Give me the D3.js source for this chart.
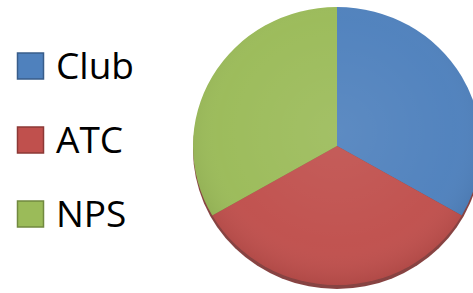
<!DOCTYPE html>
<html>
<head>
<meta charset="UTF-8">
<title>Pie</title>
<script src="https://d3js.org/d3.v7.min.js"></script>
<style>
  body { margin: 0; background: #fff; }
  svg { display: block; }
</style>
</head>
<body>
<div id="chart"></div>
<script>
const categories = ["Club", "ATC", "NPS"];
const values = [1, 1, 1];
const colors = ["#4f81bd", "#c0504d", "#9bbb59"];
const borders = ["#385d8a", "#8c3836", "#71893f"];

const width = 473, height = 293;
const cx = 337, cy = 146, rx = 144, ry = 139;

const svg = d3.select("#chart").append("svg")
  .attr("width", width)
  .attr("height", height);

const defs = svg.append("defs");
const grad = defs.append("radialGradient")
  .attr("id", "shade")
  .attr("cx", "50%").attr("cy", "45%").attr("r", "55%");
grad.append("stop").attr("offset", "0%").attr("stop-color", "#fff").attr("stop-opacity", 0.08);
grad.append("stop").attr("offset", "75%").attr("stop-color", "#fff").attr("stop-opacity", 0.02);
grad.append("stop").attr("offset", "100%").attr("stop-color", "#000").attr("stop-opacity", 0.08);

const data = categories.map((c, i) => ({ name: c, value: values[i], color: colors[i] }));

const pie = d3.pie().sort(null).value(d => d.value);
const arc = d3.arc().innerRadius(0).outerRadius(ry);

const g = svg.append("g")
  .attr("transform", `translate(${cx},${cy}) scale(${rx / ry},1)`);

// depth under the pie
g.append("ellipse")
  .attr("cx", 0).attr("cy", 4)
  .attr("rx", ry).attr("ry", ry)
  .attr("fill", "#7a2f2d")
  .attr("opacity", 0.9);

g.selectAll("path.slice")
  .data(pie(data))
  .join("path")
  .attr("class", "slice")
  .attr("d", arc)
  .attr("fill", d => d.data.color);

g.append("circle")
  .attr("r", ry)
  .attr("fill", "url(#shade)");

// legend
const legend = svg.append("g");
const y = d3.scalePoint().domain(categories).range([66, 214]);

legend.selectAll("rect")
  .data(data)
  .join("rect")
  .attr("x", 17.5)
  .attr("y", d => y(d.name) - 13)
  .attr("width", 26)
  .attr("height", 26)
  .attr("fill", d => d.color)
  .attr("stroke", (d, i) => borders[i])
  .attr("stroke-width", 1.5);

legend.selectAll("text")
  .data(data)
  .join("text")
  .attr("x", 56)
  .attr("y", d => y(d.name) + 12.5)
  .attr("font-family", "'Open Sans', sans-serif")
  .attr("font-size", 37)
  .attr("fill", "#000")
  .text(d => d.name);
</script>
</body>
</html>
